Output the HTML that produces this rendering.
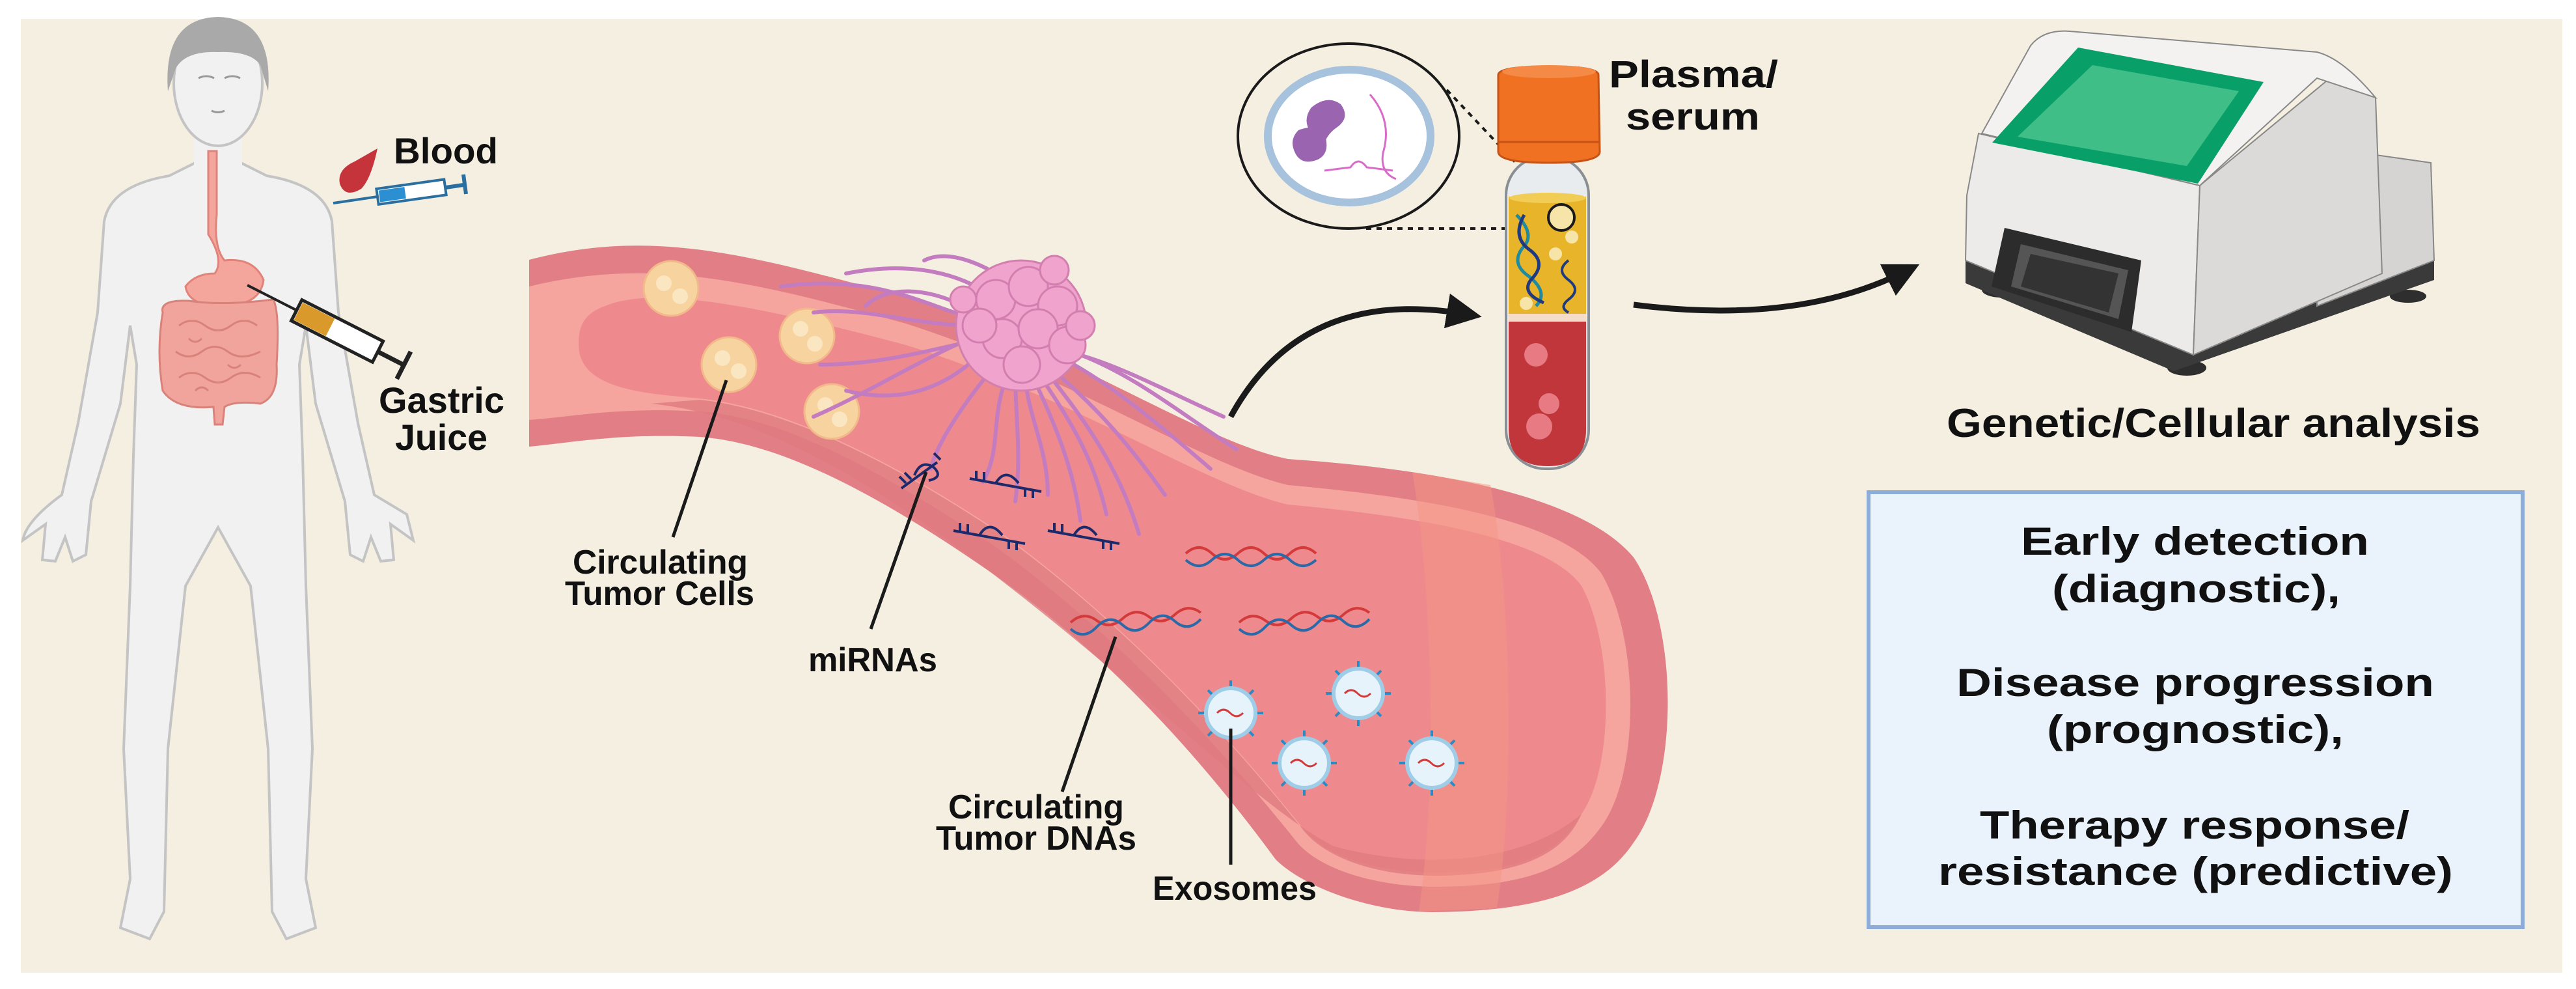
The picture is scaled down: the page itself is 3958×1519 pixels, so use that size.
<!DOCTYPE html>
<html><head><meta charset="utf-8"><style>
html,body{margin:0;padding:0;background:#fff;}
svg{display:block;}
text{font-family:"Liberation Sans",Arial,sans-serif;font-weight:bold;fill:#111;}
</style></head><body>
<svg width="3958" height="1519" viewBox="0 0 3958 1519" xmlns="http://www.w3.org/2000/svg">
<defs>
<marker id="ah" markerWidth="6" markerHeight="6" refX="3" refY="3" orient="auto" markerUnits="strokeWidth">
<path d="M0,0 L6,3 L0,6 Z" fill="#1a1a1a"/></marker>
</defs>
<rect x="0" y="0" width="3958" height="1519" fill="#fff"/>
<rect x="32" y="29" width="3905" height="1465" fill="#f5efe2"/>

<!-- HUMAN -->
<g stroke="#c4c4c4" stroke-width="4" fill="#f1f1f1">
<path d="M300,250 L260,270 Q170,285 160,340 L150,480 L120,650 L95,760 Q40,800 35,830 L70,805 L65,860 L85,862 L100,825 L112,862 L132,852 L140,770 L185,620 L200,500 L210,560 L205,700 L200,900 L190,1150 L200,1350 L185,1425 L230,1442 L252,1400 L258,1150 L285,900 L335,810 L385,900 L412,1150 L418,1400 L440,1442 L485,1425 L470,1350 L480,1150 L470,900 L465,700 L460,560 L470,500 L485,620 L530,770 L538,852 L558,862 L570,825 L585,862 L605,860 L600,805 L635,830 L625,790 L575,760 L550,650 L520,480 L510,340 Q500,285 410,270 L370,250 Z"/>
<rect x="298" y="200" width="74" height="70" stroke="none"/>
<ellipse cx="335" cy="128" rx="68" ry="96"/>
</g>
<path d="M258,140 Q250,28 335,26 Q420,28 412,140 L400,100 Q385,78 335,80 Q285,78 270,105 Z" fill="#a9a9a9"/>
<g stroke="#999" stroke-width="3" fill="none">
<path d="M305,120 q12,-6 24,0 M345,120 q12,-6 24,0 M325,170 q10,5 20,0"/>
</g>
<!-- esophagus / stomach / intestine -->
<path d="M333,232 L333,330 Q328,380 345,400 Q390,395 405,430 Q400,470 340,470 Q290,470 285,440 Q300,420 330,420 Q345,400 320,360 L320,232 Z" fill="#f4a59c" stroke="#e0837a" stroke-width="3"/>
<path d="M250,480 Q245,460 290,462 Q340,470 420,460 Q430,480 425,560 Q428,610 400,620 Q360,615 345,625 L342,652 L330,652 L328,625 Q270,630 250,600 Q240,540 250,480 Z" fill="#f0a49c" stroke="#d9827a" stroke-width="3"/>
<g fill="none" stroke="#d9827a" stroke-width="3">
<path d="M275,500 q20,-15 40,0 q20,15 40,0 q20,-15 40,0 M270,540 q20,15 40,0 q20,-15 40,0 q20,15 50,0 M275,580 q20,-15 40,0 q20,15 40,0 q20,-15 45,0"/>
<path d="M290,520 q10,10 20,0 M350,560 q10,10 20,0 M300,600 q10,-10 20,0"/>
</g>
<!-- blood drop & syringes -->
<path d="M580,228 Q570,275 555,290 Q530,305 522,282 Q518,260 545,248 Z" fill="#c4343a"/>
<g>
<line x1="512" y1="312" x2="580" y2="302" stroke="#2a6fa0" stroke-width="4"/>
<rect x="580" y="290" width="105" height="24" fill="#fff" stroke="#2a6fa0" stroke-width="4" transform="rotate(-8 580 302)"/>
<rect x="583" y="293" width="40" height="18" fill="#2b8fd2" transform="rotate(-8 580 302)"/>
<line x1="685" y1="288" x2="712" y2="284" stroke="#2a6fa0" stroke-width="6"/>
<line x1="712" y1="268" x2="716" y2="298" stroke="#2a6fa0" stroke-width="6"/>
</g>
<g transform="rotate(27 380 438)">
<line x1="380" y1="438" x2="465" y2="438" stroke="#222" stroke-width="4"/>
<rect x="465" y="420" width="140" height="36" fill="#fff" stroke="#222" stroke-width="5"/>
<rect x="468" y="423" width="55" height="30" fill="#d99a2b"/>
<line x1="605" y1="438" x2="650" y2="438" stroke="#222" stroke-width="7"/>
<line x1="650" y1="415" x2="650" y2="462" stroke="#222" stroke-width="7"/>
</g>
<text x="605" y="251" textLength="160" lengthAdjust="spacingAndGlyphs" font-size="56">Blood</text>
<text x="582" y="634" textLength="193" lengthAdjust="spacingAndGlyphs" font-size="56">Gastric</text>
<text x="607" y="691" textLength="142" lengthAdjust="spacingAndGlyphs" font-size="56">Juice</text>

<!-- VESSEL -->
<path d="M813,399 C1000,350 1150,390 1392,457 C1650,540 1850,680 1979,705 C2200,720 2430,760 2510,856 C2580,960 2580,1200 2510,1294 C2460,1370 2360,1400 2200,1401 C2100,1400 2000,1360 1960,1320 C1850,1170 1700,1000 1518,876 C1350,760 1200,680 1075,671 C950,665 880,680 813,686 Z" fill="#e27f86"/>
<path d="M813,440 C1000,395 1150,430 1392,497 C1650,580 1850,715 1979,745 C2200,765 2400,800 2460,880 C2520,980 2520,1190 2460,1270 C2410,1340 2330,1362 2200,1362 C2100,1360 2020,1330 1990,1290 C1870,1140 1710,970 1530,840 C1350,720 1200,640 1075,632 C950,625 880,640 813,645 Z" fill="#f6a59e"/>
<path d="M930,470 C1000,440 1150,465 1392,530 C1650,610 1850,745 1979,775 C2200,795 2380,830 2430,900 C2480,990 2480,1180 2430,1250 C2390,1320 2320,1340 2200,1340 C2100,1338 2030,1310 2000,1270 C1880,1120 1720,950 1540,820 C1360,700 1200,625 1075,612 C1000,605 900,600 890,540 C885,500 900,480 930,470 Z" fill="#ee8a8e"/>
<path d="M1000,620 C1200,640 1400,780 1600,940 C1800,1100 1950,1250 2050,1300 C2200,1340 2350,1320 2430,1250 C2400,1320 2320,1345 2200,1345 C2100,1343 2030,1312 2000,1272 C1880,1122 1720,952 1540,822 C1360,702 1200,627 1075,614 Z" fill="#e07a80" opacity="0.8"/>
<path d="M2170,725 C2200,900 2210,1200 2180,1400 L2300,1395 C2330,1200 2320,900 2290,745 Z" fill="#f49682" opacity="0.5"/>
<!-- CTCs -->
<g fill="#f7d3a0" stroke="#f2b98a" stroke-width="3">
<circle cx="1031" cy="443" r="42"/><circle cx="1120" cy="560" r="42"/><circle cx="1240" cy="516" r="42"/><circle cx="1278" cy="632" r="42"/>
</g>
<g fill="#fbe6c2">
<circle cx="1020" cy="435" r="12"/><circle cx="1045" cy="455" r="12"/><circle cx="1110" cy="550" r="12"/><circle cx="1135" cy="570" r="12"/><circle cx="1230" cy="505" r="12"/><circle cx="1252" cy="528" r="12"/><circle cx="1268" cy="622" r="12"/><circle cx="1290" cy="644" r="12"/>
</g>
<!-- tendrils -->
<g fill="none" stroke="#c47cc0" stroke-width="6" stroke-linecap="round">
<path d="M1500,490 C1420,470 1350,420 1200,440"/>
<path d="M1500,500 C1400,500 1330,470 1250,480"/>
<path d="M1510,520 C1420,540 1350,560 1260,560"/>
<path d="M1510,540 C1450,600 1380,620 1300,600"/>
<path d="M1530,560 C1480,620 1440,680 1430,720"/>
<path d="M1550,570 C1520,640 1540,690 1510,740"/>
<path d="M1575,580 C1580,640 1610,690 1610,760"/>
<path d="M1600,580 C1640,640 1680,700 1700,790"/>
<path d="M1625,575 C1690,630 1740,690 1790,760"/>
<path d="M1650,560 C1720,600 1790,660 1860,720"/>
<path d="M1640,540 C1720,560 1790,600 1880,640"/>
<path d="M1530,460 C1480,420 1400,400 1300,420"/>
<path d="M1560,440 C1520,410 1460,380 1420,400"/>
<path d="M1490,520 C1400,560 1340,600 1250,640"/>
<path d="M1590,585 C1620,650 1650,720 1660,800"/>
<path d="M1615,580 C1670,650 1720,720 1750,820"/>
<path d="M1560,575 C1560,640 1570,700 1560,770"/>
<path d="M1660,545 C1750,580 1820,640 1900,690"/>
<path d="M1480,470 C1420,440 1360,440 1330,470"/>
</g>
<!-- tumor -->
<g fill="#f0a3cc" stroke="#d27fb0" stroke-width="3">
<circle cx="1569" cy="500" r="100"/>
<circle cx="1530" cy="460" r="30"/><circle cx="1580" cy="440" r="30"/><circle cx="1625" cy="470" r="30"/><circle cx="1540" cy="520" r="30"/><circle cx="1595" cy="505" r="30"/><circle cx="1640" cy="530" r="28"/><circle cx="1570" cy="560" r="28"/><circle cx="1505" cy="500" r="26"/>
<circle cx="1620" cy="415" r="22"/><circle cx="1660" cy="500" r="22"/><circle cx="1480" cy="460" r="20"/>
</g>
<!-- miRNAs -->
<g fill="none" stroke="#1c2a6b" stroke-width="4">
<path d="M1385,750 L1440,710 M1405,730 q10,-25 30,-12 q15,15 -8,20 M1392,742 l-10,-10 M1400,736 l-10,-10 M1445,706 l-10,-10"/>
<path d="M1490,735 L1600,755 M1530,742 q15,-25 35,0 M1500,737 l0,-14 M1512,739 l0,-14 M1575,749 l0,14 M1587,751 l0,14"/>
<path d="M1465,815 L1575,835 M1505,822 q15,-25 35,0 M1475,817 l0,-14 M1487,819 l0,-14 M1550,829 l0,14 M1562,831 l0,14"/>
<path d="M1610,815 L1720,835 M1650,822 q15,-25 35,0 M1620,817 l0,-14 M1632,819 l0,-14 M1695,829 l0,14 M1707,831 l0,14"/>
</g>
<!-- DNA -->
<g fill="none" stroke-width="4">
<path d="M1822,850 q20,-18 40,0 t40,0 t40,0 t40,0 t40,0" stroke="#d43a3a"/>
<path d="M1822,860 q20,18 40,0 t40,0 t40,0 t40,0 t40,0" stroke="#2a6aa8"/>
<path d="M1645,956 q20,-18 40,-3 t40,-3 t40,-3 t40,-3 t40,-3" stroke="#d43a3a"/>
<path d="M1645,966 q20,18 40,-3 t40,-3 t40,-3 t40,-3 t40,-3" stroke="#2a6aa8"/>
<path d="M1904,956 q20,-18 40,-3 t40,-3 t40,-3 t40,-3 t40,-3" stroke="#d43a3a"/>
<path d="M1904,966 q20,18 40,-3 t40,-3 t40,-3 t40,-3 t40,-3" stroke="#2a6aa8"/>
</g>
<!-- exosomes -->
<g>
<g stroke="#2a8ac4" stroke-width="4"><line x1="1891" y1="1045" x2="1891" y2="1145"/><line x1="1841" y1="1095" x2="1941" y2="1095"/><line x1="1856" y1="1060" x2="1926" y2="1130"/><line x1="1926" y1="1060" x2="1856" y2="1130"/></g>
<circle cx="1891" cy="1095" r="38" fill="#e6f3fa" stroke="#9fcde8" stroke-width="6"/>
<path d="M1870,1095 q10,-10 20,0 t20,0" stroke="#d43a3a" stroke-width="3" fill="none"/>
</g>
<g>
<g stroke="#2a8ac4" stroke-width="4"><line x1="2087" y1="1015" x2="2087" y2="1115"/><line x1="2037" y1="1065" x2="2137" y2="1065"/><line x1="2052" y1="1030" x2="2122" y2="1100"/><line x1="2122" y1="1030" x2="2052" y2="1100"/></g>
<circle cx="2087" cy="1065" r="38" fill="#e6f3fa" stroke="#9fcde8" stroke-width="6"/>
<path d="M2066,1065 q10,-10 20,0 t20,0" stroke="#d43a3a" stroke-width="3" fill="none"/>
</g>
<g>
<g stroke="#2a8ac4" stroke-width="4"><line x1="2004" y1="1122" x2="2004" y2="1222"/><line x1="1954" y1="1172" x2="2054" y2="1172"/><line x1="1969" y1="1137" x2="2039" y2="1207"/><line x1="2039" y1="1137" x2="1969" y2="1207"/></g>
<circle cx="2004" cy="1172" r="38" fill="#e6f3fa" stroke="#9fcde8" stroke-width="6"/>
<path d="M1983,1172 q10,-10 20,0 t20,0" stroke="#d43a3a" stroke-width="3" fill="none"/>
</g>
<g>
<g stroke="#2a8ac4" stroke-width="4"><line x1="2200" y1="1122" x2="2200" y2="1222"/><line x1="2150" y1="1172" x2="2250" y2="1172"/><line x1="2165" y1="1137" x2="2235" y2="1207"/><line x1="2235" y1="1137" x2="2165" y2="1207"/></g>
<circle cx="2200" cy="1172" r="38" fill="#e6f3fa" stroke="#9fcde8" stroke-width="6"/>
<path d="M2179,1172 q10,-10 20,0 t20,0" stroke="#d43a3a" stroke-width="3" fill="none"/>
</g>

<!-- pointer lines -->
<g stroke="#1a1a1a" stroke-width="5">
<line x1="1116" y1="584" x2="1034" y2="825"/>
<line x1="1423" y1="725" x2="1338" y2="966"/>
<line x1="1714" y1="978" x2="1632" y2="1216"/>
<line x1="1891" y1="1119" x2="1891" y2="1328"/>
</g>
<text x="880" y="881" textLength="269" lengthAdjust="spacingAndGlyphs" font-size="52">Circulating</text>
<text x="868" y="929" textLength="291" lengthAdjust="spacingAndGlyphs" font-size="52">Tumor Cells</text>
<text x="1242" y="1031" textLength="198" lengthAdjust="spacingAndGlyphs" font-size="52">miRNAs</text>
<text x="1457" y="1257" textLength="270" lengthAdjust="spacingAndGlyphs" font-size="52">Circulating</text>
<text x="1438" y="1305" textLength="308" lengthAdjust="spacingAndGlyphs" font-size="52">Tumor DNAs</text>
<text x="1771" y="1382" textLength="252" lengthAdjust="spacingAndGlyphs" font-size="52">Exosomes</text>

<!-- arrows -->
<path d="M1891,640 Q2000,440 2250,482" fill="none" stroke="#1a1a1a" stroke-width="9" marker-end="url(#ah)"/>
<path d="M2510,468 Q2760,500 2925,418" fill="none" stroke="#1a1a1a" stroke-width="9" marker-end="url(#ah)"/>

<!-- magnifier -->
<ellipse cx="2072" cy="209" rx="170" ry="142" fill="none" stroke="#1a1a1a" stroke-width="4"/>
<ellipse cx="2073" cy="209" rx="125" ry="102" fill="#fff" stroke="#a7c2dc" stroke-width="12"/>
<path d="M2015,165 q25,-20 45,-5 q15,20 -5,35 q-15,10 -20,25 q-20,5 -20,-15 q-15,-20 0,-40 Z" fill="#9b64b0"/>
<path d="M1995,200 q25,-10 40,5 q10,30 -10,40 q-25,10 -35,-10 q-10,-20 5,-35 Z" fill="#9b64b0"/>
<path d="M2105,145 q35,40 20,90 q-5,30 20,40" fill="none" stroke="#d86cc8" stroke-width="3"/>
<path d="M2035,262 l40,-5 q12,-18 25,0 l40,5" fill="none" stroke="#d86cc8" stroke-width="3"/>
<g stroke="#1a1a1a" stroke-width="4" stroke-dasharray="8,8" fill="none">
<line x1="2223" y1="138" x2="2395" y2="320"/>
<line x1="2099" y1="351" x2="2399" y2="351"/>
</g>

<!-- tube -->
<rect x="2314" y="240" width="127" height="480" rx="60" ry="60" fill="#e8ecee" stroke="#8a8f94" stroke-width="4"/>
<rect x="2318" y="302" width="119" height="185" fill="#e8b52a"/>
<ellipse cx="2378" cy="304" rx="59" ry="8" fill="#f2cd55"/>
<rect x="2318" y="482" width="119" height="12" fill="#f4dcc8"/>
<path d="M2318,494 L2437,494 L2437,660 Q2437,716 2378,716 Q2318,716 2318,660 Z" fill="#c0363a"/>
<circle cx="2360" cy="545" r="18" fill="#e87a84"/><circle cx="2380" cy="620" r="16" fill="#e87a84"/><circle cx="2365" cy="655" r="20" fill="#e87a84"/>
<circle cx="2399" cy="334" r="20" fill="#f6e4a8" stroke="#1a1a1a" stroke-width="4"/>
<circle cx="2415" cy="364" r="10" fill="#f6e4a8"/><circle cx="2390" cy="390" r="10" fill="#f6e4a8"/><circle cx="2345" cy="466" r="10" fill="#f6e4a8"/>
<path d="M2330,330 q30,30 10,50 q-20,25 10,45 q30,25 10,45" fill="none" stroke="#1f8aa0" stroke-width="5"/>
<path d="M2342,330 q-20,35 10,55 q25,20 0,45 q-15,20 20,35" fill="none" stroke="#203a80" stroke-width="5"/>
<path d="M2410,400 q-20,15 0,30 q20,15 0,30 q-15,12 0,20" fill="none" stroke="#203a80" stroke-width="4"/>
<path d="M2302,115 Q2302,102 2380,102 Q2456,102 2456,115 L2458,232 Q2460,250 2380,250 Q2300,250 2302,232 Z" fill="#f07122" stroke="#c75215" stroke-width="3"/>
<ellipse cx="2380" cy="110" rx="72" ry="10" fill="#f48a46"/>
<line x1="2302" y1="218" x2="2458" y2="218" stroke="#c75215" stroke-width="3"/>
<text x="2472" y="134" textLength="260" lengthAdjust="spacingAndGlyphs" font-size="58">Plasma/</text>
<text x="2498" y="199" textLength="206" lengthAdjust="spacingAndGlyphs" font-size="58">serum</text>

<!-- machine -->
<ellipse cx="3075" cy="445" rx="30" ry="12" fill="#2e2e2e"/>
<ellipse cx="3360" cy="565" rx="30" ry="12" fill="#2e2e2e"/>
<ellipse cx="3700" cy="455" rx="28" ry="10" fill="#2e2e2e"/>
<path d="M3020,390 L3340,520 L3740,395 L3740,430 L3340,570 L3020,435 Z" fill="#3a3a3a"/>
<path d="M3560,225 L3735,250 L3740,400 L3560,470 Z" fill="#d6d4d2" stroke="#888" stroke-width="2"/>
<path d="M3040,205 L3380,285 L3370,545 L3020,400 L3022,300 Z" fill="#edebea" stroke="#888" stroke-width="2"/>
<path d="M3380,285 L3580,120 L3650,150 L3660,420 L3370,545 Z" fill="#dcdad8" stroke="#888" stroke-width="2"/>
<path d="M3045,205 L3120,70 Q3140,45 3180,48 L3560,80 Q3600,90 3650,150 L3560,120 L3380,285 Z" fill="#f3f2f1" stroke="#888" stroke-width="2"/>
<path d="M3193,73 L3478,126 L3377,282 L3061,219 Z" fill="#08a068"/>
<path d="M3215,100 L3440,140 L3360,255 L3100,210 Z" fill="#3fbe88"/>
<path d="M3080,350 L3290,400 L3275,510 L3060,440 Z" fill="#2c2c2c"/>
<path d="M3105,375 L3270,415 L3255,490 L3090,440 Z" fill="#555"/>
<path d="M3120,390 L3255,420 L3240,480 L3105,440 Z" fill="#333"/>

<text x="2991" y="671" textLength="820" lengthAdjust="spacingAndGlyphs" font-size="62">Genetic/Cellular analysis</text>

<!-- box -->
<rect x="2871" y="756" width="1005" height="668" fill="#eaf2fb" stroke="#8dadd8" stroke-width="6"/>
<g font-size="60">
<text x="3105" y="852" textLength="535" lengthAdjust="spacingAndGlyphs">Early detection</text>
<text x="3153" y="925" textLength="443" lengthAdjust="spacingAndGlyphs">(diagnostic),</text>
<text x="3006" y="1069" textLength="734" lengthAdjust="spacingAndGlyphs">Disease progression</text>
<text x="3145" y="1141" textLength="456" lengthAdjust="spacingAndGlyphs">(prognostic),</text>
<text x="3042" y="1288" textLength="660" lengthAdjust="spacingAndGlyphs">Therapy response/</text>
<text x="2978" y="1359" textLength="791" lengthAdjust="spacingAndGlyphs">resistance (predictive)</text>
</g>
</svg>
</body></html>
